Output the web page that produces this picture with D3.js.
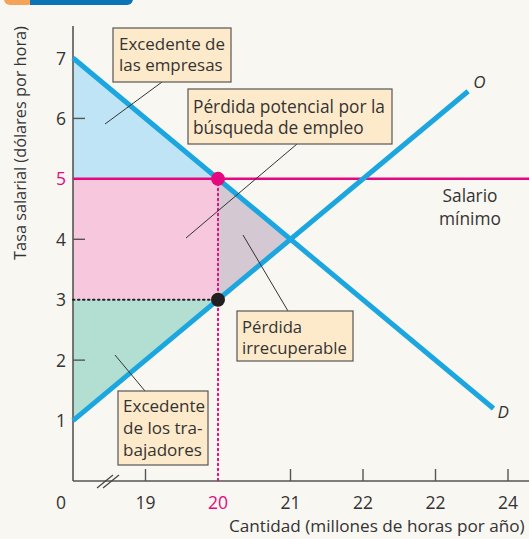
<!DOCTYPE html>
<html><head><meta charset="utf-8">
<script src="https://cdn.jsdelivr.net/npm/d3@7"></script>
<style>
html,body{margin:0;padding:0;background:#f9f7f2;overflow:hidden;}
svg{display:block;}
text{font-family:"Open Sans", sans-serif;fill:#333;}
</style></head>
<body>
<svg id="chart" width="529" height="539"></svg>
<script>
// ---- data ----
const xTickValues = [19, 20, 21, 22, 23, 24];
const xTickLabels = ["19", "20", "21", "22", "22", "24"];
const yTickValues = [1, 2, 3, 4, 5, 6, 7];
const yTickLabels = ["1", "2", "3", "4", "5", "6", "7"];
const demandQ = [18, 23.8];
const demandP = [7, 1.2];
const supplyQ = [18, 23.45];
const supplyP = [1, 6.45];
const minWage = 5;
const quantityAtMinWage = 20;
const supplyPriceAtMinWage = 3;

const svg = d3.select("#chart");
const x = d3.scaleLinear().domain([18, 24]).range([73, 508]);
const y = d3.scaleLinear().domain([0, 7]).range([481, 58]);
const x0 = x(18);
const blue = "#1ba6df", pink = "#e5097f";

// scale a text's font so its width matches the reference
function fitSize(str, target, base) {
  const t = svg.append("text").attr("font-size", base).text(str);
  const w = t.node().getComputedTextLength();
  t.remove();
  return base * target / w;
}

// header badge (cut at top)
svg.append("rect").attr("x", 4).attr("y", -20).attr("width", 30).attr("height", 25).attr("rx", 6).attr("fill", "#f6a35a");
svg.append("path").attr("d", "M30,-20 H127 A6,6 0 0 1 133,-14 V-1 A6,6 0 0 1 127,5 H30 Z").attr("fill", "#0b74b4");

// areas
const area = pts => "M" + pts.map(p => x(p[0]) + "," + y(p[1])).join("L") + "Z";
svg.append("path").attr("d", area([[18, 7], [20, 5], [18, 5]])).attr("fill", "#bfe4f6");
svg.append("path").attr("d", area([[18, 5], [20, 5], [20, 3], [18, 3]])).attr("fill", "#f6c7dd");
svg.append("path").attr("d", area([[20, 5], [21, 4], [20, 3]])).attr("fill", "#d4c8d2");
svg.append("path").attr("d", area([[18, 3], [20, 3], [18, 1]])).attr("fill", "#b3dfd3");

// axes
svg.append("line").attr("x1", x0).attr("x2", x0).attr("y1", 26).attr("y2", y(0)).attr("stroke", "#555").attr("stroke-width", 1.6);
svg.append("line").attr("x1", x0).attr("x2", 529).attr("y1", y(0)).attr("y2", y(0)).attr("stroke", "#555").attr("stroke-width", 1.6);
// break marks
[0, 6].forEach(d => svg.append("line").attr("x1", 97 + d).attr("y1", 488).attr("x2", 113 + d).attr("y2", 475).attr("stroke", "#444").attr("stroke-width", 1.2));

// ticks
yTickValues.filter(v => v % 2 === 0).forEach(v => {
  svg.append("line").attr("x1", x0).attr("x2", x0 + 12).attr("y1", y(v)).attr("y2", y(v)).attr("stroke", "#555").attr("stroke-width", 1.4);
});
xTickValues.filter(v => v !== quantityAtMinWage).forEach(v => {
  svg.append("line").attr("x1", x(v)).attr("x2", x(v)).attr("y1", y(0)).attr("y2", y(0) - 12).attr("stroke", "#555").attr("stroke-width", 1.4);
});

// tick labels
const tickFont = 17.5;
yTickValues.forEach((v, i) => {
  svg.append("text").attr("x", 66).attr("y", y(v) + 6.5).attr("text-anchor", "end").attr("font-size", tickFont)
    .style("fill", v === minWage ? pink : "#333").text(yTickLabels[i]);
});
xTickValues.forEach((v, i) => {
  svg.append("text").attr("x", x(v)).attr("y", 509).attr("text-anchor", "middle").attr("font-size", tickFont)
    .style("fill", v === quantityAtMinWage ? pink : "#333").text(xTickLabels[i]);
});
svg.append("text").attr("x", 61).attr("y", 509).attr("text-anchor", "middle").attr("font-size", tickFont).text("0");

// axis titles
const yTitle = "Tasa salarial (dólares por hora)";
const yTitleSize = fitSize(yTitle, 234, 15);
svg.append("text").attr("transform", "translate(26,143) rotate(-90)").attr("text-anchor", "middle").attr("font-size", yTitleSize)
  .text(yTitle);
const xTitle = "Cantidad (millones de horas por año)";
const xTitleSize = fitSize(xTitle, 296, 15);
svg.append("text").attr("x", 229).attr("y", 532).attr("font-size", xTitleSize).text(xTitle);

// dotted guides
svg.append("line").attr("x1", x(quantityAtMinWage)).attr("x2", x(quantityAtMinWage)).attr("y1", y(minWage)).attr("y2", y(0))
  .attr("stroke", pink).attr("stroke-width", 2).attr("stroke-dasharray", "1.5,3.5").attr("stroke-linecap", "round");
svg.append("line").attr("x1", x0).attr("x2", x(quantityAtMinWage)).attr("y1", y(supplyPriceAtMinWage)).attr("y2", y(supplyPriceAtMinWage))
  .attr("stroke", "#222").attr("stroke-width", 2).attr("stroke-dasharray", "1.5,3.5").attr("stroke-linecap", "round");

// minimum wage line
svg.append("line").attr("x1", x0).attr("x2", 529).attr("y1", y(minWage)).attr("y2", y(minWage)).attr("stroke", pink).attr("stroke-width", 2.5);

// demand & supply
const line = d3.line().x(d => x(d[0])).y(d => y(d[1]));
svg.append("path").attr("d", line(demandQ.map((q, i) => [q, demandP[i]]))).attr("stroke", blue).attr("stroke-width", 5).attr("fill", "none");
svg.append("path").attr("d", line(supplyQ.map((q, i) => [q, supplyP[i]]))).attr("stroke", blue).attr("stroke-width", 5).attr("fill", "none");

// curve labels
svg.append("text").attr("x", x(supplyQ[1]) + 5).attr("y", y(supplyP[1]) - 3).attr("font-size", 17).attr("font-style", "italic").text("O");
svg.append("text").attr("x", x(demandQ[1]) + 4).attr("y", y(demandP[1]) + 10).attr("font-size", 17).attr("font-style", "italic").text("D");
const salSize = fitSize("Salario", 55, 15);
svg.append("text").attr("x", 470).attr("y", 202).attr("text-anchor", "middle").attr("font-size", salSize).text("Salario");
svg.append("text").attr("x", 470).attr("y", 225).attr("text-anchor", "middle").attr("font-size", salSize).text("mínimo");

// points
svg.append("circle").attr("cx", x(quantityAtMinWage)).attr("cy", y(minWage)).attr("r", 7).attr("fill", pink);
svg.append("circle").attr("cx", x(quantityAtMinWage)).attr("cy", y(supplyPriceAtMinWage)).attr("r", 7).attr("fill", "#231f20");

// annotations
function note(bx, by, bw, bh, lines, widest, tx, ty, lh, px1, py1, px2, py2) {
  svg.append("line").attr("x1", px1).attr("y1", py1).attr("x2", px2).attr("y2", py2).attr("stroke", "#333").attr("stroke-width", 1);
  svg.append("rect").attr("x", bx).attr("y", by).attr("width", bw).attr("height", bh).attr("fill", "#fdeacb").attr("stroke", "#555").attr("stroke-width", 1.2);
  const fs = fitSize(lines[widest[0]], widest[1], 16);
  lines.forEach((t, i) => svg.append("text").attr("x", tx).attr("y", ty + i * lh).attr("font-size", fs).text(t));
}
note(113, 28, 118, 54, ["Excedente de", "las empresas"], [0, 106], 119, 50, 21, 162, 82, 105, 124);
note(188, 89, 204, 55, ["Pérdida potencial por la", "búsqueda de empleo"], [0, 192], 193, 113, 21, 297, 144, 186, 238);
note(237, 311, 116, 50, ["Pérdida", "irrecuperable"], [1, 105], 242, 333, 21, 288, 311, 243, 235);
note(118, 391, 90, 74, ["Excedente", "de los tra-", "bajadores"], [2, 79], 123, 412, 22, 145, 391, 115, 355);
</script>
</body></html>
